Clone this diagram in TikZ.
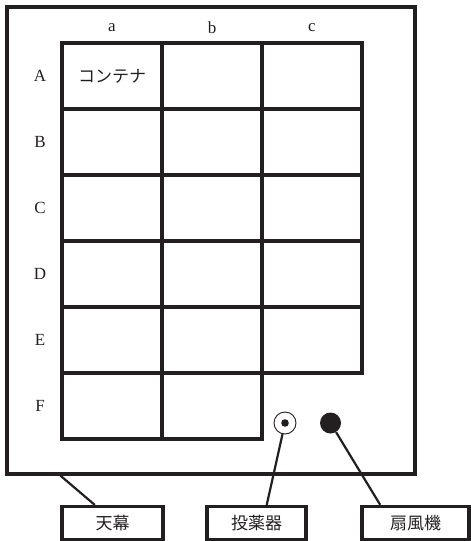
\documentclass[tikz,border=0pt]{standalone}
\usepackage{fontspec}
\setmainfont{Liberation Serif}
\newfontfamily\jpfont{Noto Sans CJK JP}
\usepackage{xcolor}
\definecolor{ink}{HTML}{231F20}
\usetikzlibrary{positioning, calc}

\begin{document}
\begin{tikzpicture}[
  x=1pt, y=-1pt,
  font=\fontsize{17}{20}\selectfont,
  text=ink,
  wall/.style={draw=ink, line width=3.2pt},
  cell/.style={
    rectangle, draw=ink, line width=3.2pt,
    minimum width=100pt, minimum height=66pt, inner sep=0pt
  },
  tag/.style={
    rectangle, draw=ink, line width=3.2pt,
    minimum height=33pt, inner sep=0pt,
    font=\fontsize{17}{20}\selectfont\jpfont
  },
  lead/.style={draw=ink, line width=2.2pt},
  heading/.style={font=\fontsize{17}{20}\selectfont}
]
\useasboundingbox (0,0) rectangle (471,541);

% Tent outline
\node[wall, rectangle, minimum width=408pt, minimum height=467pt, inner sep=0pt] (tent) at (211,240.5) {};

% Container grid (rows A-E full, row F only a and b)
\foreach \c in {0,1,2}
  \foreach \r in {0,...,4}
    \node[cell] (cell-\r-\c) at (112+100*\c, 76+66*\r) {};
\foreach \c in {0,1}
  \node[cell] (cell-5-\c) at (112+100*\c, 76+66*5) {};

\node[font=\fontsize{17}{20}\selectfont\jpfont] at (cell-0-0) {コンテナ};

% Row and column labels
\foreach \lab [count=\i from 0] in {A,B,C,D,E,F}
  \node[heading] at (40, 76+66*\i) {\lab};
\foreach \lab [count=\i from 0] in {a,b,c}
  \node[heading] at (112+100*\i, 28) {\lab};

% Doser and fan
\node[circle, draw=ink, line width=0.9pt, minimum size=22pt, inner sep=0pt] (doser) at (285,423) {};
\fill[ink] (doser.center) circle (3.8pt);
\node[circle, fill=ink, minimum size=21pt, inner sep=0pt] (fan) at (330.5,423) {};

% Name tags
\node[tag, minimum width=101pt] (tentbox) at (112.5,523) {天幕};
\node[tag, minimum width=99pt] (doserbox) at (256.5,523) {投薬器};
\node[tag, minimum width=107pt] (fanbox) at (415.5,523) {扇風機};

% Leader lines
\draw[lead] (tent.south -| cell-5-0.west) -- ($(tentbox.north west)!0.33!(tentbox.north east)$);
\draw[lead] (doser) -- ($(doserbox.north west)!0.6!(doserbox.north east)$);
\draw[lead] (fan) -- ($(fanbox.north west)!0.18!(fanbox.north east)$);

\end{tikzpicture}
\end{document}
